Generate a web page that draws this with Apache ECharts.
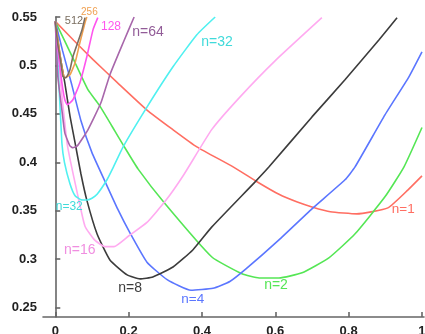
<!DOCTYPE html>
<html>
<head>
<meta charset="utf-8">
<script src="https://cdn.jsdelivr.net/npm/echarts@6/dist/echarts.min.js"></script>
<style>
  html, body { margin: 0; padding: 0; background: #fff; }
  #chart { width: 425px; height: 334px; }
</style>
</head>
<body>
<div id="chart"></div>
<script>
// tick labels
const xTicks = [0, 0.2, 0.4, 0.6, 0.8, 1];
const yTicks = [0.25, 0.3, 0.35, 0.4, 0.45, 0.5, 0.55];

// curves (x values, y values)
const n1X = [0, 0.05, 0.103, 0.17, 0.25, 0.32, 0.386, 0.485, 0.55, 0.61, 0.66, 0.70, 0.75, 0.822, 0.907, 0.962, 1.0];
const n1Y = [0.5455, 0.526, 0.506, 0.482, 0.454, 0.434, 0.416, 0.3953, 0.38, 0.367, 0.359, 0.354, 0.349, 0.3468, 0.353, 0.3716, 0.386];

const n2X = [0, 0.05, 0.089, 0.12, 0.163, 0.185, 0.226, 0.30, 0.427, 0.509, 0.556, 0.61, 0.673, 0.746, 0.817, 0.899, 0.951, 1.0];
const n2Y = [0.5455, 0.506, 0.475, 0.459, 0.432, 0.418, 0.393, 0.357, 0.3023, 0.285, 0.2807, 0.2807, 0.286, 0.3014, 0.326, 0.3644, 0.3954, 0.436];

const n4X = [0, 0.02, 0.045, 0.07, 0.1, 0.136, 0.17, 0.204, 0.25, 0.305, 0.37, 0.43, 0.476, 0.52, 0.61, 0.70, 0.79, 0.817, 0.899, 0.964, 1.0];
const n4Y = [0.5455, 0.515, 0.48, 0.443, 0.41, 0.38, 0.352, 0.327, 0.297, 0.279, 0.268, 0.270, 0.277, 0.29, 0.32, 0.352, 0.382, 0.395, 0.449, 0.488, 0.514];

const n8X = [0, 0.013, 0.026, 0.04, 0.054, 0.07, 0.086, 0.114, 0.149, 0.196, 0.231, 0.266, 0.321, 0.375, 0.427, 0.545, 0.583, 0.70, 0.79, 0.883, 0.932];
const n8Y = [0.5455, 0.51, 0.482, 0.448, 0.42, 0.388, 0.361, 0.3261, 0.2993, 0.2838, 0.2797, 0.2817, 0.292, 0.3096, 0.3334, 0.3799, 0.3954, 0.4469, 0.4852, 0.5265, 0.5493];

const n16X = [0, 0.015, 0.032, 0.042, 0.059, 0.081, 0.107, 0.135, 0.16, 0.2, 0.25, 0.3, 0.35, 0.427, 0.504, 0.6, 0.727];
const n16Y = [0.5455, 0.48, 0.42, 0.40, 0.37, 0.334, 0.32, 0.313, 0.313, 0.324, 0.338, 0.36, 0.387, 0.434, 0.4676, 0.505, 0.5493];

const n32X = [0, 0.01, 0.018, 0.025, 0.04, 0.054, 0.07, 0.086, 0.1, 0.114, 0.141, 0.155, 0.185, 0.25, 0.321, 0.386, 0.436];
const n32Y = [0.5455, 0.48, 0.42, 0.40, 0.378, 0.3655, 0.3615, 0.3612, 0.363, 0.367, 0.382, 0.3924, 0.416, 0.457, 0.4986, 0.5317, 0.55];

const n64X = [0, 0.007, 0.018, 0.026, 0.04, 0.048, 0.06, 0.089, 0.125, 0.149, 0.185, 0.215];
const n64Y = [0.5455, 0.4883, 0.4542, 0.4304, 0.417, 0.415, 0.417, 0.4336, 0.462, 0.4905, 0.5234, 0.55];

const n128X = [0, 0.007, 0.018, 0.026, 0.033, 0.048, 0.067, 0.086, 0.103, 0.116];
const n128Y = [0.5455, 0.5162, 0.482, 0.4646, 0.4594, 0.4646, 0.482, 0.509, 0.537, 0.5493];

const n256X = [0, 0.007, 0.018, 0.026, 0.04, 0.054, 0.067, 0.081, 0.086];
const n256Y = [0.5455, 0.5266, 0.4987, 0.4873, 0.4904, 0.5028, 0.5234, 0.5441, 0.55];

const n512X = [0, 0.007, 0.016, 0.021, 0.029, 0.04, 0.048, 0.062, 0.073, 0.081];
const n512Y = [0.5455, 0.5214, 0.5007, 0.4883, 0.4873, 0.4956, 0.509, 0.5245, 0.5369, 0.5493];

// series look + where its name sits (data coords)
const curves = [
  { xs: n1X,   ys: n1Y,   color: '#ff6e62', text: 'n=1',  at: [0.949, 0.3517], size: 13.5 },
  { xs: n2X,   ys: n2Y,   color: '#55e655', text: 'n=2',  at: [0.602, 0.2737], size: 14 },
  { xs: n4X,   ys: n4Y,   color: '#5b76ff', text: 'n=4',  at: [0.375, 0.259],  size: 13.5 },
  { xs: n8X,   ys: n8Y,   color: '#3c3c3c', text: 'n=8',  at: [0.204, 0.2703], size: 14 },
  { xs: n16X,  ys: n16Y,  color: '#ffaaf0', text: 'n=16', at: [0.067, 0.3096], size: 14, labelColor: '#f08ee0' },
  { xs: n32X,  ys: n32Y,  color: '#50f0f0', text: 'n=32', at: [0.038, 0.354],  size: 12, labelColor: '#40dada' },
  { xs: n64X,  ys: n64Y,  color: '#a867ab', text: 'n=64', at: [0.253, 0.5348], size: 14, labelColor: '#925c98' },
  { xs: n128X, ys: n128Y, color: '#ff55ee', text: '128',  at: [0.152, 0.540],  size: 12 },
  { xs: n256X, ys: n256Y, color: '#f0a050', text: '256',  at: [0.093, 0.549],  size: 10, offset: [0, -6] },
  { xs: n512X, ys: n512Y, color: '#7a6e60', text: '512',  at: [0.051, 0.5462], size: 11 }
];

const series = curves.map(c => ({
  type: 'line',
  data: c.xs.map((x, i) => [x, c.ys[i]]),
  symbol: 'none',
  smooth: 0.15,
  silent: true,
  lineStyle: { color: c.color, width: 1.6 },
  markPoint: {
    silent: true,
    symbol: 'circle',
    symbolSize: 0,
    data: [{ coord: c.at }],
    label: {
      show: true,
      position: 'inside',
      offset: c.offset || [0, 0],
      formatter: c.text,
      color: c.labelColor || c.color,
      fontSize: c.size,
      fontFamily: 'Liberation Sans'
    }
  }
}));

// second n=32 label, near the top
series.push({
  type: 'line',
  data: [],
  markPoint: {
    silent: true,
    symbol: 'circle',
    symbolSize: 0,
    data: [{ coord: [0.441, 0.5245] }],
    label: {
      show: true,
      position: 'inside',
      formatter: 'n=32',
      color: '#40dada',
      fontSize: 14,
      fontFamily: 'Liberation Sans'
    }
  }
});

const axisCommon = {
  type: 'value',
  axisLine: { show: true, lineStyle: { color: '#666', width: 1.6 } },
  axisTick: { show: true, inside: true, length: 5, lineStyle: { color: '#666', width: 1.6 } },
  splitLine: { show: false },
  axisLabel: { color: '#222', fontSize: 13, fontWeight: 'bold', fontFamily: 'Liberation Sans' }
};

const chart = echarts.init(document.getElementById('chart'), null, { renderer: 'canvas' });
chart.setOption({
  animation: false,
  backgroundColor: '#fff',
  grid: { left: 43, right: 1, top: 17, bottom: 17, outerBoundsMode: 'none' },
  xAxis: Object.assign({}, axisCommon, {
    min: -0.0335,
    max: 1.0055,
    axisTick: Object.assign({}, axisCommon.axisTick, { customValues: xTicks }),
    axisLabel: Object.assign({}, axisCommon.axisLabel, { customValues: xTicks, margin: 8 })
  }),
  yAxis: Object.assign({}, axisCommon, {
    min: 0.2404,
    max: 0.55,
    axisTick: Object.assign({}, axisCommon.axisTick, { customValues: yTicks }),
    axisLabel: Object.assign({}, axisCommon.axisLabel, { customValues: yTicks, margin: 6 })
  }),
  series: series
});
</script>
</body>
</html>
